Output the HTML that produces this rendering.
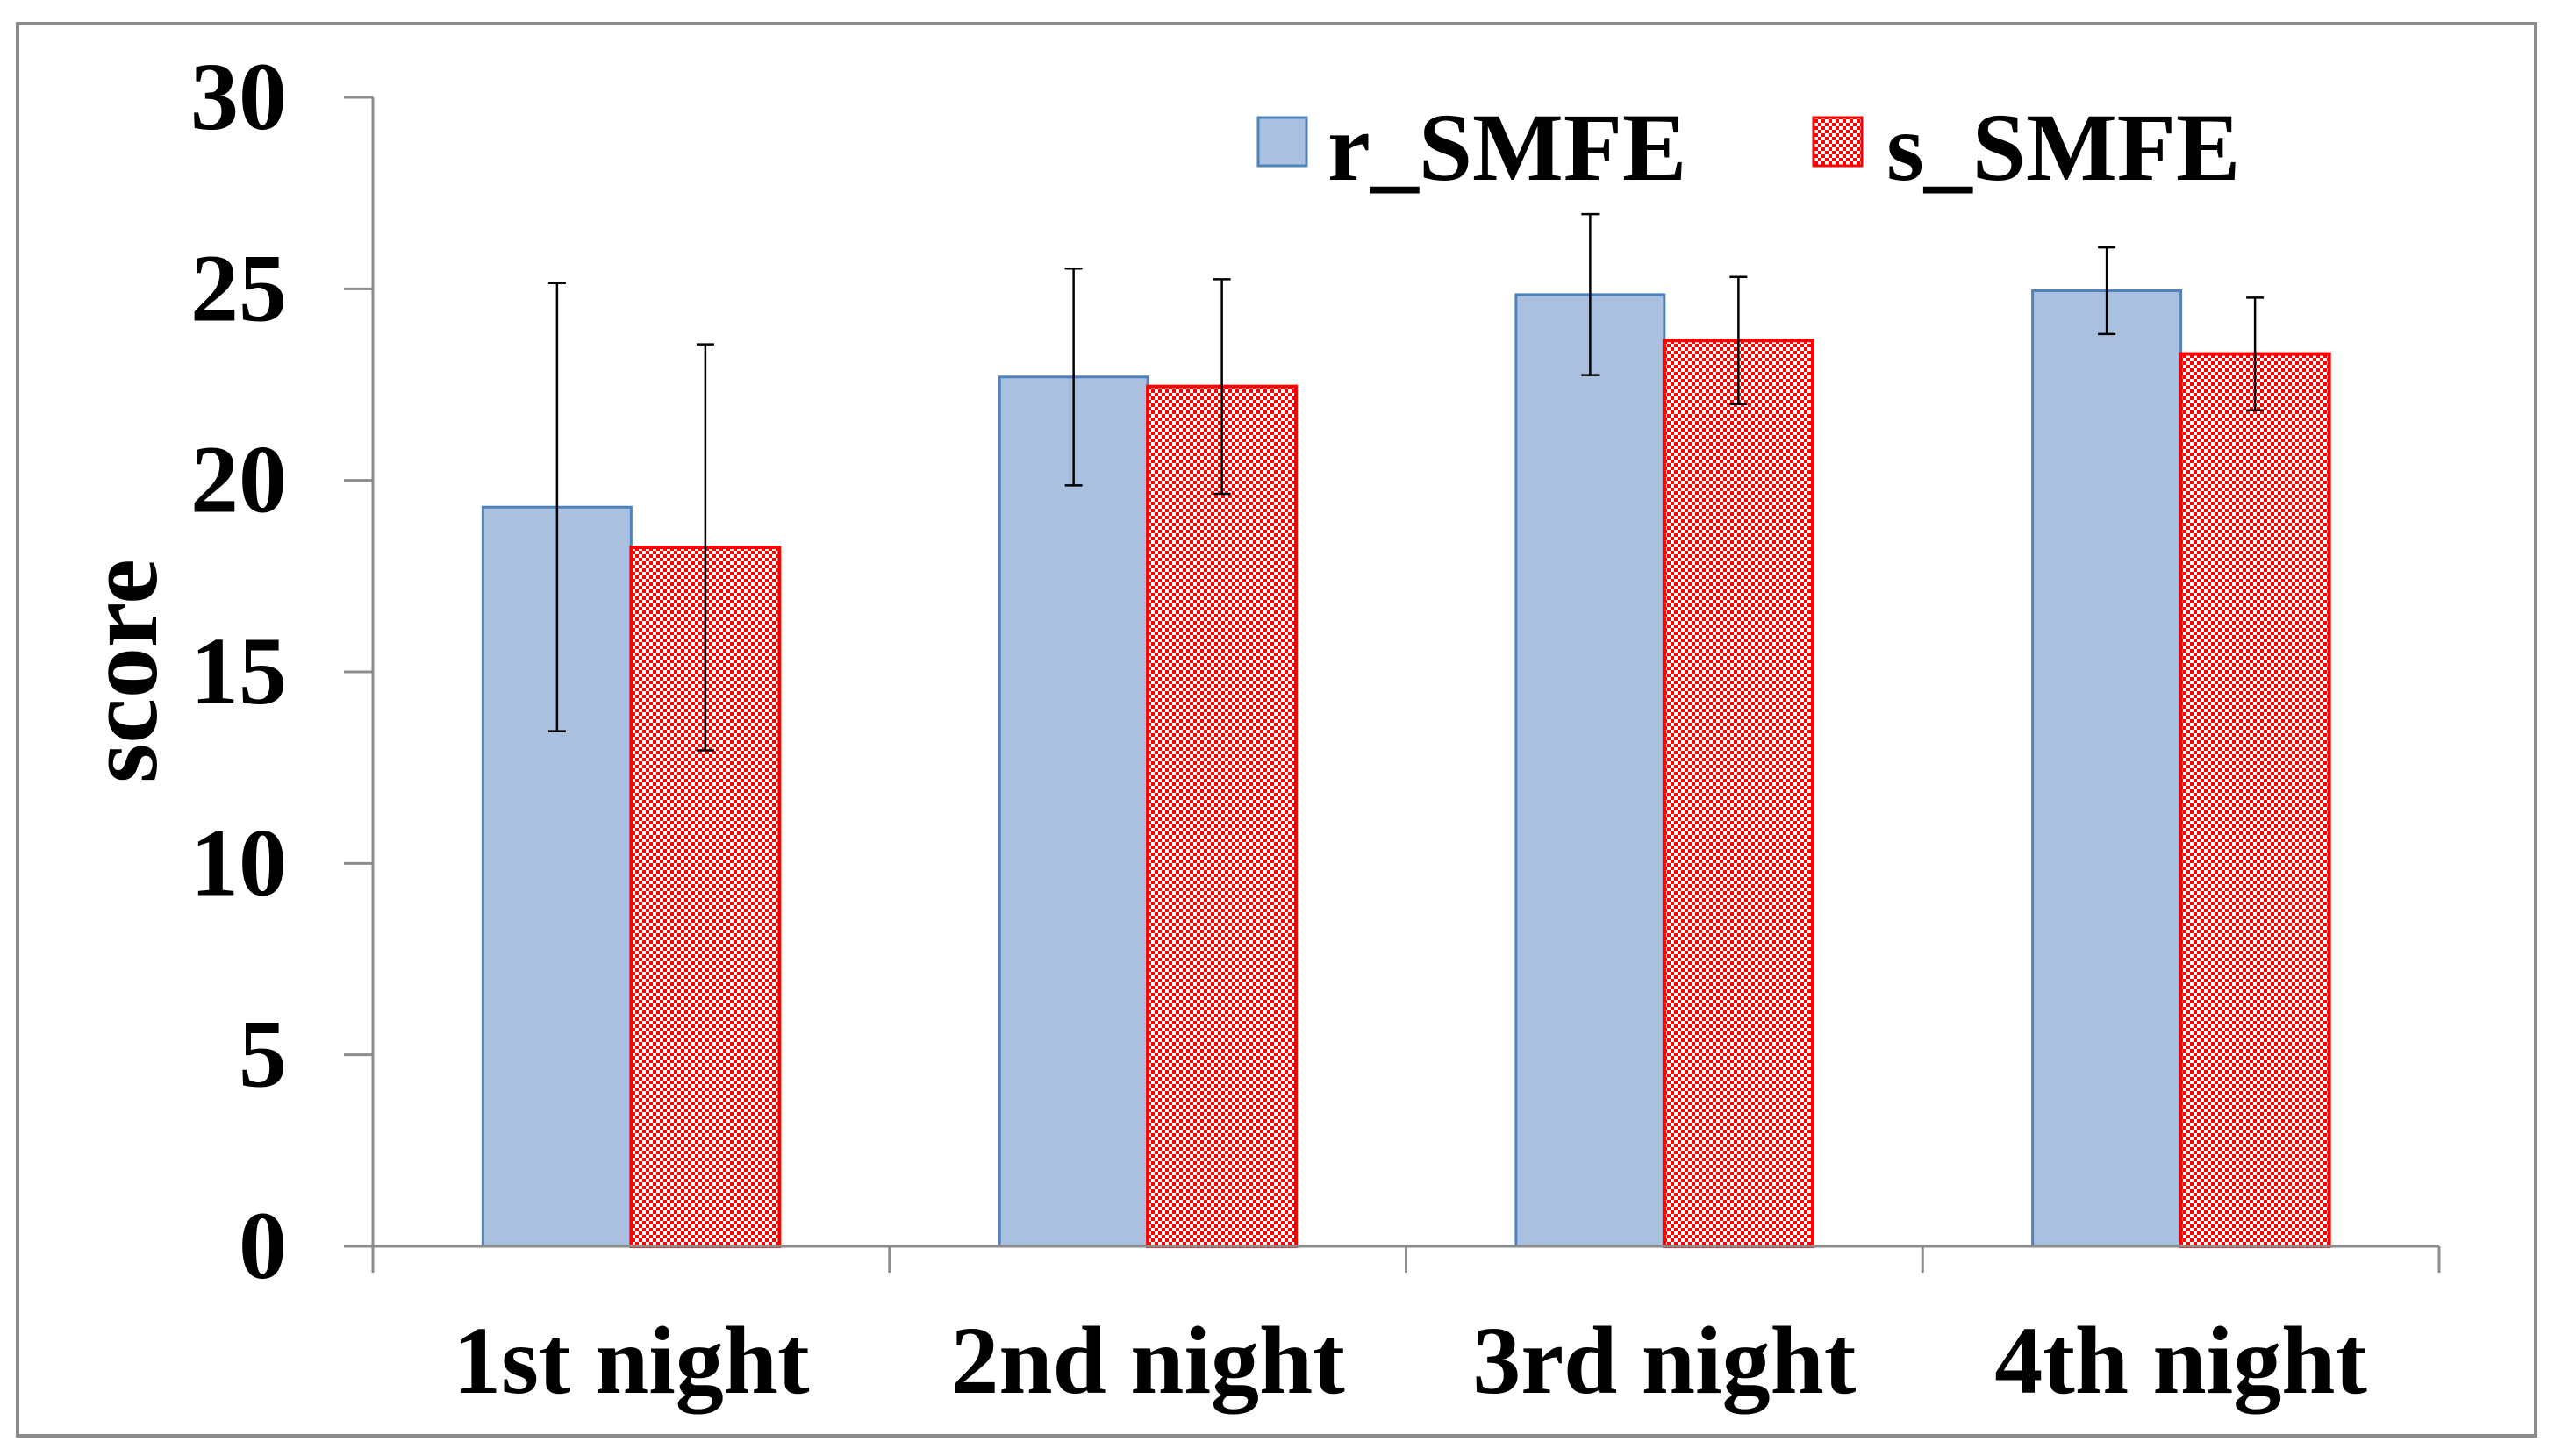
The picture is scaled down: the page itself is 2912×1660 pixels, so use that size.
<!DOCTYPE html>
<html><head><meta charset="utf-8"><style>
html,body{margin:0;padding:0;background:#fff;}
svg{display:block;}
text{font-family:"Liberation Serif",serif;font-weight:bold;fill:#000;}
</style></head><body>
<svg id="chart" width="2912" height="1660">
<defs>
<pattern id="checker" width="8" height="8" patternUnits="userSpaceOnUse">
<rect width="8" height="8" fill="#ff0000"/>
<rect x="0" y="0" width="4" height="4" fill="#ffffff"/>
<rect x="4" y="4" width="4" height="4" fill="#ffffff"/>
</pattern>
</defs>
<rect x="20" y="27" width="2870" height="1610" fill="#fff" stroke="#8c8c8c" stroke-width="4"/>
<g id="plot"></g>
<text x="0" y="0" transform="translate(178,765) rotate(-90)" text-anchor="middle" font-size="116">score</text>
<rect x="1434" y="134" width="55" height="55" fill="#a9c1de" stroke="#4f81bd" stroke-width="3"/>
<text x="1513" y="205" font-size="110">r_SMFE</text>
<rect x="2067" y="134" width="55" height="55" fill="url(#checker)" stroke="#ff0000" stroke-width="3"/>
<text x="2150" y="205" font-size="110">s_SMFE</text>
</svg>
<script>
const categories = ["1st night","2nd night","3rd night","4th night"];
const rValues = [19.3, 22.7, 24.85, 24.95];
const sValues = [18.25, 22.45, 23.65, 23.3];
const rErrors = [5.85, 2.83, 2.1, 1.13];
const sErrors = [5.3, 2.8, 1.66, 1.47];
const yTicks = [0,5,10,15,20,25,30];

const NS = "http://www.w3.org/2000/svg";
const plot = document.getElementById('plot');
const X0 = 425, X1 = 2780, Y0 = 1421, Y1 = 111, YMAX = 30;
const catW = (X1 - X0) / categories.length;
const barW = 169;
function y(v){ return Y0 - (v / YMAX) * (Y0 - Y1); }
function catCenter(i){ return X0 + catW * (i + 0.5); }
function mk(tag, attrs){ const e = document.createElementNS(NS, tag); for (const k in attrs) e.setAttribute(k, attrs[k]); plot.appendChild(e); return e; }

let ax = mk('line', {x1:X0, y1:Y1, x2:X0, y2:Y0, stroke:'#8c8c8c', 'stroke-width':3});


yTicks.forEach(t => {
  const tk = mk('line', {x1:X0-33, y1:y(t), x2:X0, y2:y(t), stroke:'#8c8c8c', 'stroke-width':3});
  
  
  const lb = mk('text', {x:327, y:y(t)+36, 'text-anchor':'end', 'font-size':110});
  lb.textContent = t;
  
  
});

categories.forEach((c, i) => {
  const cx = catCenter(i);
  const rb = mk('rect', {x:cx-barW, y:y(rValues[i]), width:barW, height:Y0-y(rValues[i]), fill:'#a9c1de', stroke:'#4f81bd', 'stroke-width':3});
  
  
  const sb = mk('rect', {x:cx, y:y(sValues[i]), width:barW, height:Y0-y(sValues[i]), fill:'url(#checker)', stroke:'#ff0000', 'stroke-width':4});
  
  
  [[cx-barW/2, rValues[i], rErrors[i]], [cx+barW/2, sValues[i], sErrors[i]]].forEach(([ex, v, e]) => {
    const g = mk('path', {d:`M${ex},${y(v+e)}V${y(v-e)}M${ex-10},${y(v+e)}H${ex+10}M${ex-10},${y(v-e)}H${ex+10}`, stroke:'#000', 'stroke-width':2.5, fill:'none'});
    
    
  });
  const lb = mk('text', {x:cx, y:1588, 'text-anchor':'middle', 'font-size':110});
  lb.textContent = c;
  
  
});

let xa = mk('line', {x1:X0, y1:Y0, x2:X1, y2:Y0, stroke:'#8c8c8c', 'stroke-width':3});


for (let i = 0; i <= categories.length; i++) {
  const tk = mk('line', {x1:X0+catW*i, y1:Y0, x2:X0+catW*i, y2:Y0+30, stroke:'#8c8c8c', 'stroke-width':3});
  
  
}
</script>
</body></html>
